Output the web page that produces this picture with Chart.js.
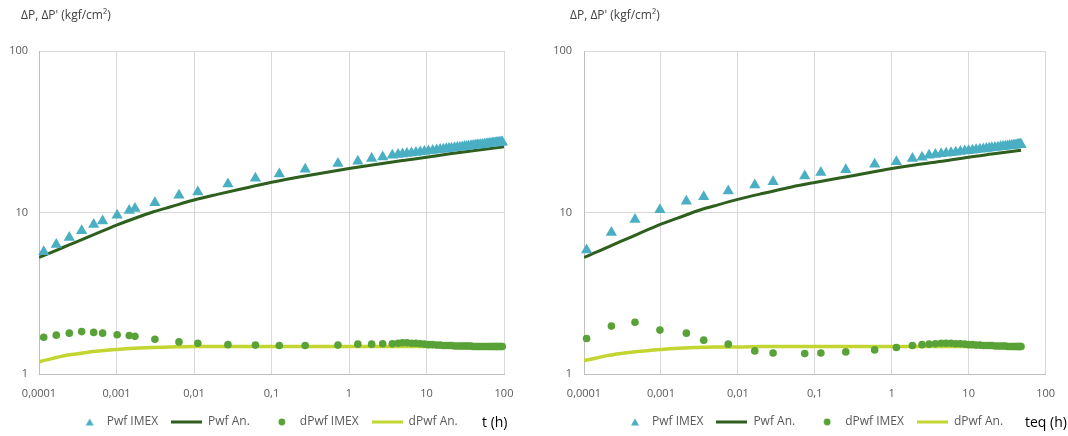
<!DOCTYPE html>
<html>
<head>
<meta charset="utf-8">
<script src="https://cdn.jsdelivr.net/npm/chart.js@4.4.1/dist/chart.umd.min.js"></script>
<style>
  body { margin: 0; width: 1068px; height: 436px; overflow: hidden; position: relative; background: #fff; font-family: "Open Sans", sans-serif; }
  .panel { position: absolute; top: 0; }
  .ytitle { position: absolute; top: 7px; font-size: 12px; line-height: 16px; color: #404040; white-space: nowrap; }
  .xtitle { position: absolute; top: 413px; font-size: 14px; line-height: 18px; color: #000; white-space: nowrap; }
</style>
</head>
<body>
<canvas id="chartT" class="panel" width="534" height="440" style="left:0"></canvas>
<canvas id="chartTeq" class="panel" width="534" height="440" style="left:534px"></canvas>
<div class="ytitle" style="left:21px">ΔP, ΔP' (kgf/cm²)</div>
<div class="ytitle" style="left:570px">ΔP, ΔP' (kgf/cm²)</div>
<div class="xtitle" style="left:482px">t (h)</div>
<div class="xtitle" style="left:1025px">teq (h)</div>

<script>
// axis ticks
const xTickValues = [0.0001, 0.001, 0.01, 0.1, 1, 10, 100];
const xTickLabels = ['0,0001', '0,001', '0,01', '0,1', '1', '10', '100'];
const yTickValues = [1, 10, 100];
const yTickLabels = ['1', '10', '100'];
const seriesNames = ['Pwf IMEX', 'Pwf An.', 'dPwf IMEX', 'dPwf An.'];

// left chart: drawdown, time t (h)
const tImex = [0.000115, 0.000167, 0.000246, 0.000355, 0.000508, 0.000662, 0.00102, 0.00146, 0.00173, 0.00313,
    0.0064, 0.0112, 0.0274, 0.062, 0.126, 0.272, 0.72, 1.30, 1.96, 2.72, 3.62,
    4.3, 4.9, 5.6, 6.4, 7.3, 8.3, 9.4, 10.6, 12, 13.5, 15, 16.5, 18, 19.5, 21, 23, 25, 27, 29, 31,
    33, 35, 37.5, 40, 42.5, 45, 47.5, 50, 53, 56, 59, 62, 65, 68, 71, 74, 77, 80, 83, 86, 89, 92, 95];
const pwfImex = [5.71, 6.34, 7.0, 7.7, 8.43, 8.87, 9.62, 10.3, 10.6, 11.5,
    12.8, 13.4, 15.0, 16.3, 17.3, 18.5, 20.1, 20.8, 21.6, 22.1, 22.6,
    22.83, 23.00, 23.18, 23.36, 23.53, 23.71, 23.88, 24.05, 24.22, 24.38, 24.53, 24.67, 24.79, 24.91, 25.01, 25.15, 25.27, 25.38, 25.48, 25.58,
    25.67, 25.76, 25.86, 25.96, 26.05, 26.14, 26.22, 26.30, 26.38, 26.47, 26.55, 26.62, 26.70, 26.77, 26.83, 26.90, 26.96, 27.02, 27.08, 27.13, 27.19, 27.24, 27.29];
const dpwfImex = [1.69, 1.74, 1.79, 1.83, 1.81, 1.79, 1.75, 1.73, 1.71, 1.64,
    1.58, 1.55, 1.52, 1.51, 1.50, 1.50, 1.51, 1.53, 1.53, 1.54, 1.54,
    1.55, 1.56, 1.56, 1.55, 1.55, 1.54, 1.53, 1.52, 1.52, 1.51, 1.51, 1.50, 1.50, 1.50, 1.50, 1.49, 1.49, 1.49, 1.49, 1.49,
    1.49, 1.49, 1.49, 1.48, 1.48, 1.48, 1.48, 1.48, 1.48, 1.48, 1.48, 1.48, 1.48, 1.48, 1.48, 1.48, 1.48, 1.48, 1.48, 1.48, 1.48, 1.48, 1.48];
const tAn = [0.0001, 0.00015, 0.0002, 0.0003, 0.0005, 0.0007, 0.001, 0.002, 0.003, 0.005, 0.01, 0.02, 0.05,
    0.1, 0.2, 0.5, 1, 2, 5, 10, 20, 50, 100];
const pwfAn = [5.27, 5.71, 6.05, 6.56, 7.27, 7.78, 8.35, 9.45, 10.1, 10.85, 11.95, 12.95, 14.3,
    15.4, 16.4, 17.7, 18.7, 19.7, 21.0, 22.0, 23.1, 24.5, 25.5];
const dpwfAn = [1.19, 1.25, 1.29, 1.33, 1.38, 1.40, 1.42, 1.45, 1.46, 1.47, 1.48, 1.48, 1.48,
    1.48, 1.48, 1.48, 1.48, 1.48, 1.48, 1.48, 1.48, 1.48, 1.48];

// right chart: buildup, equivalent time teq (h)
const teqImex = [0.000108, 0.000227, 0.00046, 0.00097, 0.00214, 0.0036, 0.0075, 0.0166, 0.0287,
    0.074, 0.12, 0.253, 0.60, 1.15, 1.86, 2.48, 3.06,
    3.7, 4.4, 5.1, 5.9, 6.8, 7.8, 8.9, 10, 11.2, 12.5, 14, 15.5, 17, 18.5, 20,
    22, 24, 26, 28, 30, 32, 34, 36, 38, 40, 41.5, 43, 44.5, 46, 47, 48];
const pwfImexEq = [5.85, 7.52, 9.05, 10.4, 11.75, 12.5, 13.6, 14.8, 15.5,
    16.8, 17.7, 18.4, 19.9, 20.6, 21.6, 22.0, 22.6,
    22.84, 23.07, 23.26, 23.45, 23.64, 23.83, 24.00, 24.16, 24.32, 24.47, 24.63, 24.77, 24.90, 25.02, 25.13,
    25.27, 25.39, 25.50, 25.61, 25.71, 25.80, 25.89, 25.98, 26.06, 26.13, 26.19, 26.24, 26.29, 26.34, 26.37, 26.40];
const dpwfImexEq = [1.66, 1.98, 2.09, 1.87, 1.79, 1.62, 1.53, 1.39, 1.35,
    1.34, 1.35, 1.37, 1.41, 1.46, 1.50, 1.52, 1.53,
    1.54, 1.55, 1.55, 1.55, 1.54, 1.54, 1.53, 1.52, 1.52, 1.51, 1.51, 1.50, 1.50, 1.50, 1.50,
    1.49, 1.49, 1.49, 1.49, 1.49, 1.48, 1.48, 1.48, 1.48, 1.48, 1.48, 1.48, 1.48, 1.48, 1.48, 1.48];
const teqAn = [0.0001, 0.00015, 0.0002, 0.0003, 0.0005, 0.0007, 0.001, 0.002, 0.003, 0.005, 0.01, 0.02, 0.05,
    0.1, 0.2, 0.5, 1, 2, 5, 10, 20, 48];
const pwfAnEq = [5.27, 5.72, 6.08, 6.62, 7.35, 7.88, 8.47, 9.55, 10.25, 11.0, 12.05, 13.05, 14.4,
    15.35, 16.3, 17.6, 18.7, 19.7, 20.9, 22.0, 23.0, 24.3];
const dpwfAnEq = [1.21, 1.26, 1.30, 1.34, 1.38, 1.40, 1.42, 1.45, 1.46, 1.47, 1.47, 1.48, 1.48,
    1.48, 1.48, 1.48, 1.48, 1.48, 1.48, 1.48, 1.48, 1.48];

const imexColor = '#4bafc4';
const pwfAnColor = '#2e5f1e';
const dpwfImexColor = '#58a238';
const dpwfAnColor = '#c3d531';
const tickColor = '#595959';

Chart.defaults.font.family = "'Open Sans', sans-serif";

function points(xs, ys) {
    return xs.map((x, i) => ({ x: x, y: ys[i] }));
}

// small canvases used as legend symbols
function legendIcon(kind, color) {
    const c = document.createElement('canvas');
    c.width = 31;
    c.height = 12;
    const g = c.getContext('2d');
    g.fillStyle = color;
    if (kind === 'triangle') {
        g.beginPath();
        g.moveTo(20, 2.5);
        g.lineTo(24, 9.5);
        g.lineTo(16, 9.5);
        g.closePath();
        g.fill();
    } else if (kind === 'circle') {
        g.beginPath();
        g.arc(19, 6, 3.4, 0, 2 * Math.PI);
        g.fill();
    } else {
        g.fillRect(0, 4.5, 31, 3);
    }
    return c;
}

const legendIcons = [
    legendIcon('triangle', imexColor),
    legendIcon('line', pwfAnColor),
    legendIcon('circle', dpwfImexColor),
    legendIcon('line', dpwfAnColor)
];

function buildChart(id, tI, pI, dI, tA, pA, dA, padRight, yWidth, yPad, legendShift) {
    return new Chart(document.getElementById(id), {
        type: 'scatter',
        data: {
            datasets: [
                {
                    label: seriesNames[0],
                    data: points(tI, pI),
                    pointStyle: 'triangle',
                    pointRadius: 6.5,
                    backgroundColor: imexColor,
                    borderColor: imexColor,
                    pointBorderWidth: 0,
                    clip: false
                },
                {
                    label: seriesNames[1],
                    data: points(tA, pA),
                    showLine: true,
                    borderColor: pwfAnColor,
                    backgroundColor: pwfAnColor,
                    borderWidth: 3,
                    pointRadius: 0,
                    cubicInterpolationMode: 'monotone'
                },
                {
                    label: seriesNames[2],
                    data: points(tI, dI),
                    pointStyle: 'circle',
                    pointRadius: 3.8,
                    backgroundColor: dpwfImexColor,
                    borderColor: dpwfImexColor,
                    pointBorderWidth: 0,
                    clip: false
                },
                {
                    label: seriesNames[3],
                    data: points(tA, dA),
                    showLine: true,
                    borderColor: dpwfAnColor,
                    backgroundColor: dpwfAnColor,
                    borderWidth: 3.5,
                    pointRadius: 0,
                    cubicInterpolationMode: 'monotone'
                }
            ]
        },
        plugins: [{
            // move the legend so that it sits where the original one is
            id: 'legendShift',
            afterLayout: chart => {
                chart.legend.left += legendShift;
                chart.legend.right += legendShift;
            }
        }],
        options: {
            responsive: false,
            animation: false,
            devicePixelRatio: 1,
            layout: { padding: { left: 0, right: padRight, top: 51, bottom: 2 } },
            plugins: {
                tooltip: { enabled: false },
                legend: {
                    position: 'bottom',
                    labels: {
                        usePointStyle: true,
                        pointStyleWidth: 31,
                        padding: 13,
                        color: tickColor,
                        font: { size: 12 },
                        generateLabels: function (chart) {
                            return chart.data.datasets.map((ds, i) => ({
                                text: ds.label,
                                pointStyle: legendIcons[i],
                                fillStyle: 'transparent',
                                strokeStyle: 'transparent',
                                lineWidth: 0,
                                hidden: false,
                                fontColor: tickColor,
                                datasetIndex: i
                            }));
                        }
                    }
                }
            },
            scales: {
                x: {
                    type: 'logarithmic',
                    min: 0.0001,
                    max: 100,
                    afterBuildTicks: axis => { axis.ticks = xTickValues.map(v => ({ value: v })); },
                    afterFit: axis => { axis.height = 29; },
                    grid: { color: '#d9d9d9', drawTicks: false },
                    border: { color: '#bfbfbf' },
                    ticks: {
                        autoSkip: false,
                        maxRotation: 0,
                        padding: 13,
                        color: tickColor,
                        font: { size: 11 },
                        callback: (value, index) => xTickLabels[index]
                    }
                },
                y: {
                    type: 'logarithmic',
                    min: 1,
                    max: 100,
                    afterBuildTicks: axis => { axis.ticks = yTickValues.map(v => ({ value: v })); },
                    afterFit: axis => { axis.width = yWidth; },
                    grid: { color: '#d9d9d9', drawTicks: false },
                    border: { color: '#bfbfbf' },
                    ticks: {
                        autoSkip: false,
                        padding: yPad,
                        color: tickColor,
                        font: { size: 11 },
                        callback: (value, index) => yTickLabels[index]
                    }
                }
            }
        }
    });
}

buildChart('chartT', tImex, pwfImex, dpwfImex, tAn, pwfAn, dpwfAn, 30, 39, 11, 11.7);
buildChart('chartTeq', teqImex, pwfImexEq, dpwfImexEq, teqAn, pwfAnEq, dpwfAnEq, 17, 50, 12, 16.5);
</script>
</body>
</html>
